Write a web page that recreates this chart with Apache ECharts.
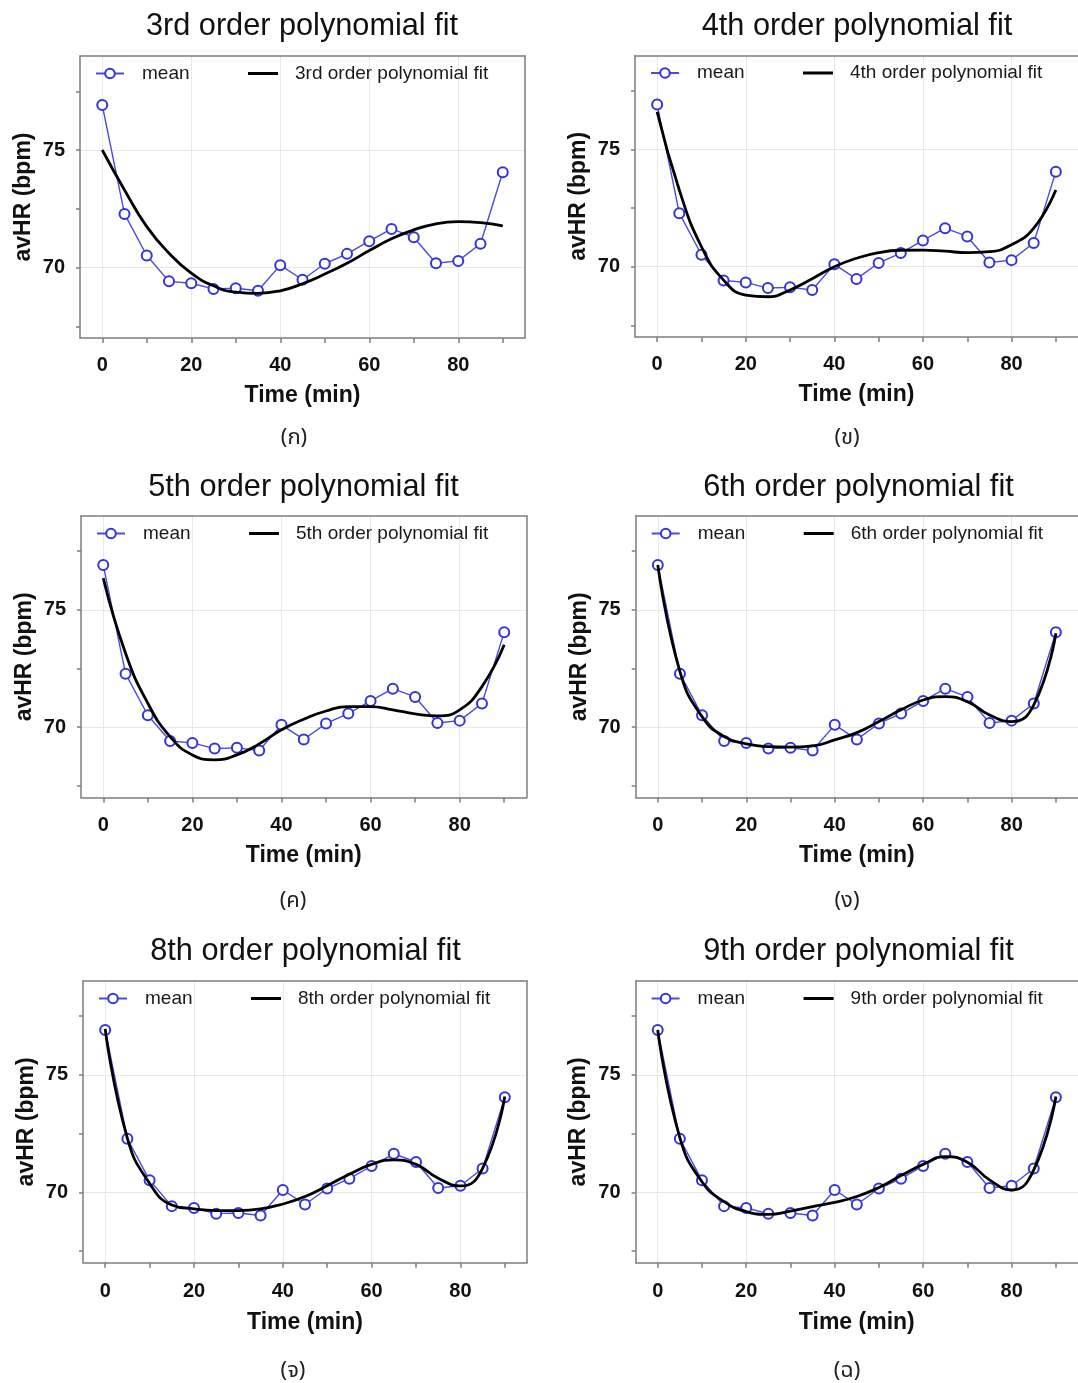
<!DOCTYPE html>
<html><head><meta charset="utf-8">
<script src="https://cdn.jsdelivr.net/npm/echarts@6/dist/echarts.min.js"></script>
<style>html,body{margin:0;padding:0;background:#fff}#c{width:1078px;height:1383px}</style>
</head><body><div id="c"></div>
<script>
// ---- data ----
const timeMin = [0,5,10,15,20,25,30,35,40,45,50,55,60,65,70,75,80,85,90];
const meanHR  = [76.91,72.28,70.51,69.41,69.33,69.09,69.12,69.01,70.10,69.48,70.16,70.58,71.12,71.64,71.29,70.18,70.28,71.01,74.05];
const fit3 = [75.00,73.30,71.74,70.61,69.76,69.22,68.95,68.90,69.01,69.31,69.72,70.18,70.72,71.22,71.60,71.86,71.95,71.91,71.77];
const fit4 = [76.60,73.27,70.85,69.43,68.79,68.72,69.01,69.49,70.00,70.36,70.60,70.70,70.71,70.66,70.60,70.64,70.94,71.64,73.27];
const fit5 = [76.35,73.15,71.02,69.60,68.82,68.61,68.82,69.29,69.89,70.34,70.69,70.88,70.88,70.74,70.57,70.48,70.74,71.73,73.51];
const fit6 = [76.92,72.37,70.45,69.60,69.29,69.17,69.15,69.20,69.46,69.77,70.24,70.74,71.16,71.30,71.09,70.52,70.24,70.95,74.00];
const fit8 = [76.96,72.30,70.38,69.46,69.29,69.22,69.22,69.29,69.50,69.82,70.28,70.77,71.19,71.38,71.19,70.60,70.27,71.02,74.08];
const fit9 = [76.92,72.33,70.45,69.60,69.18,69.06,69.20,69.39,69.57,69.82,70.20,70.71,71.19,71.52,71.28,70.53,70.10,70.95,74.08];
const xTickValues  = [0,10,20,30,40,50,60,70,80,90];
const xLabelValues = [0,20,40,60,80];
const yTickValues  = [67.5,70,72.5,75,77.5];
const yLabelValues = [70,75];
const panelTitles = ['3rd order polynomial fit','4th order polynomial fit','5th order polynomial fit','6th order polynomial fit','8th order polynomial fit','9th order polynomial fit'];
const captions = ['(ก)','(ข)','(ค)','(ง)','(จ)','(ฉ)'];
const fits = [fit3,fit4,fit5,fit6,fit8,fit9];

// ---- layout ----
const panels = [
  {left:80,    top:56,    width:445,   height:282,   xmax:95, tx:302,   ty:24,  cx:294, cy:435,  m:17, ng:46, rb:true},
  {left:635,   top:55.5,  width:443,   height:281.6, xmax:95, tx:857,   ty:24,  cx:847, cy:435,  m:17, ng:46, rb:false},
  {left:81,    top:516,   width:445.5, height:281.6, xmax:95, tx:303.5, ty:485, cx:293, cy:898,  m:18, ng:47, rb:true},
  {left:635.7, top:516,   width:442.3, height:281.6, xmax:95, tx:858.5, ty:485, cx:847, cy:898,  m:18, ng:47, rb:false},
  {left:83,    top:981,   width:444,   height:281.7, xmax:95, tx:305.5, ty:949, cx:293, cy:1368, m:19, ng:48, rb:true},
  {left:635.6, top:981,   width:442.4, height:281.7, xmax:95, tx:858.5, ty:949, cx:847, cy:1368, m:19, ng:48, rb:false}
];
const FONT = "'Liberation Sans', Arial, sans-serif";
const THAI = "'Noto Sans Thai','Noto Serif Thai','Loma','Garuda','TH Sarabun New','DejaVu Sans',sans-serif";
const AX = '#7d7d7d', GRIDC = '#e8e8e8', BLUE = '#3434dc';

const option = {
  animation:false, backgroundColor:'#fff',
  textStyle:{fontFamily:FONT},
  title:[], legend:[], grid:[], xAxis:[], yAxis:[], series:[]
};
const pairs = arr => timeMin.map((t,i)=>[t,arr[i]]);
const frame = {color:AX, width:1.5};

panels.forEach((p,i)=>{
  option.grid.push({left:p.left, top:p.top, width:p.width, height:p.height, show:false});
  option.title.push({text:panelTitles[i], left:p.tx, top:p.ty-13, textAlign:'center', padding:0,
    textStyle:{fontSize:30.7, fontWeight:'normal', color:'#111', fontFamily:FONT}});
  option.title.push({text:captions[i], left:p.cx, top:p.cy-6, textAlign:'center', padding:0,
    textStyle:{fontSize:22, fontWeight:'normal', color:'#222', fontFamily:THAI}});
  // main x axis (ticks + labels)
  option.xAxis.push({type:'value', gridIndex:i, min:-5, max:p.xmax,
    axisLine:{show:true, onZero:false, lineStyle:frame},
    axisTick:{show:true, length:5, customValues:xTickValues, lineStyle:frame},
    axisLabel:{customValues:xLabelValues, fontSize:20, fontWeight:'bold', color:'#111', margin:p.m},
    splitLine:{show:false},
    name:'Time (min)', nameLocation:'middle', nameGap:p.ng,
    nameTextStyle:{fontSize:23, fontWeight:'bold', color:'#111'}});
  // top x axis: frame line + vertical grid lines
  option.xAxis.push({type:'value', gridIndex:i, min:-5, max:p.xmax, position:'top',
    axisLine:{show:true, onZero:false, lineStyle:frame}, axisTick:{show:false, customValues:xLabelValues},
    axisLabel:{show:false}, splitLine:{show:true, lineStyle:{color:GRIDC, width:1}}});
  option.yAxis.push({type:'value', gridIndex:i, min:67, max:79,
    axisLine:{show:true, onZero:false, lineStyle:frame},
    axisTick:{show:true, length:4, customValues:yTickValues, lineStyle:frame},
    axisLabel:{customValues:yLabelValues, fontSize:20, fontWeight:'bold', color:'#111', margin:15},
    splitLine:{show:false},
    name:'avHR (bpm)', nameLocation:'middle', nameGap:45,
    nameTextStyle:{fontSize:23, fontWeight:'bold', color:'#111'}});
  // right y axis: frame line (left column only) + horizontal grid lines
  option.yAxis.push({type:'value', gridIndex:i, min:67, max:79, position:'right',
    axisLine:{show:p.rb, onZero:false, lineStyle:frame}, axisTick:{show:false, customValues:yLabelValues},
    axisLabel:{show:false}, splitLine:{show:true, lineStyle:{color:GRIDC, width:1}}});

  option.series.push({name:'mean', type:'line', xAxisIndex:2*i, yAxisIndex:2*i, data:pairs(meanHR),
    symbol:'emptyCircle', symbolSize:10, showAllSymbol:true,
    lineStyle:{color:'#4a4ae0', width:1.4},
    itemStyle:{color:BLUE, borderColor:BLUE, borderWidth:2.8}, z:3});
  option.series.push({name:panelTitles[i], type:'line', xAxisIndex:2*i, yAxisIndex:2*i, data:pairs(fits[i]),
    smooth:0.5, symbol:'none', lineStyle:{color:'#000', width:2.8}, itemStyle:{color:'#000'}, z:4});

  const ltop = p.top + 8;
  option.legend.push({data:['mean'], left:p.left+15, top:ltop, padding:0, itemWidth:28, itemHeight:12,
    selectedMode:false, textStyle:{fontSize:19, color:'#1a1a1a', padding:[0,0,0,13]}});
  option.legend.push({data:[{name:panelTitles[i], icon:'rect'}], left:p.left+168, top:ltop, padding:0, itemWidth:30, itemHeight:3,
    selectedMode:false, textStyle:{fontSize:19, color:'#1a1a1a', padding:[0,0,0,12]}});
});

const chart = echarts.init(document.getElementById('c'), null, {renderer:'canvas'});
chart.setOption(option);
</script></body></html>
